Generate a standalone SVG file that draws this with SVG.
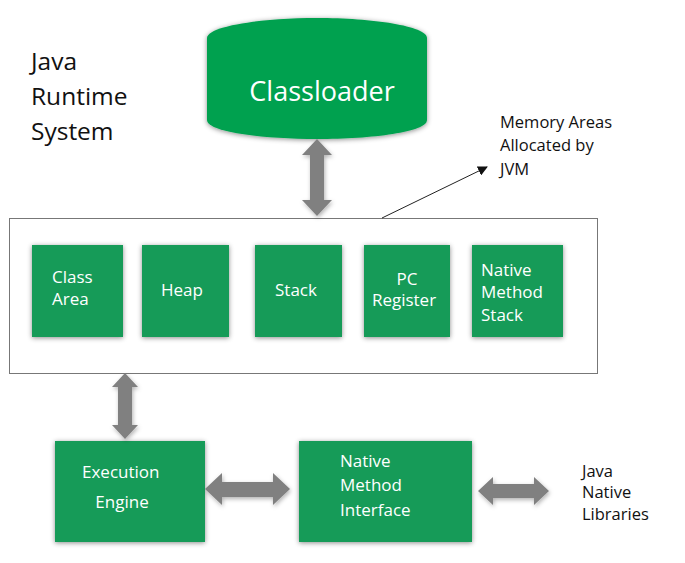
<svg xmlns="http://www.w3.org/2000/svg" width="685" height="563" viewBox="0 0 685 563">
<defs>
<filter id="sh" x="-20%" y="-20%" width="140%" height="140%">
<feDropShadow dx="0" dy="1" stdDeviation="2.5" flood-color="#000" flood-opacity="0.45"/>
</filter>
<filter id="ash" x="-30%" y="-30%" width="160%" height="160%">
<feDropShadow dx="1" dy="2" stdDeviation="2" flood-color="#000" flood-opacity="0.3"/>
</filter>
<marker id="ah" viewBox="0 0 10 10" refX="9" refY="5" markerWidth="10" markerHeight="10" markerUnits="userSpaceOnUse" orient="auto">
<path d="M0,0 L10,5 L0,10 Z" fill="#111"/>
</marker>
<style>
.box{fill:#199b59;filter:url(#sh)}
.wt{fill:#fff;font-family:"Open Sans","Liberation Sans",sans-serif;font-size:17px}
.bt{fill:#111;font-family:"Open Sans","Liberation Sans",sans-serif;font-size:16.5px}
.tt{fill:#111;font-family:"Open Sans","Liberation Sans",sans-serif;font-size:24.5px}
.arr{fill:#808080;filter:url(#ash)}
</style>
</defs>
<rect width="685" height="563" fill="#fff"/>

<g id="title">
<text class="tt" x="31" y="70">Java</text>
<text class="tt" x="31" y="105">Runtime</text>
<text class="tt" x="31" y="140">System</text>
</g>

<g id="classloader">
<path d="M207,38 C207,26 262,18 317,18 C372,18 427,26 427,38 L427,120 C427,132 372,139 317,139 C262,139 207,132 207,120 Z" fill="#00a150" filter="url(#sh)"/>
<text x="322" y="101" text-anchor="middle" style="fill:#fff;font-family:'Open Sans','Liberation Sans',sans-serif;font-size:27px">Classloader</text>
</g>

<g id="memory-areas">
<rect x="9.5" y="218.5" width="588" height="155" fill="#fff" stroke="#777" stroke-width="1"/>
</g>

<g id="class-area">
<rect class="box" x="32" y="245" width="91" height="92"/>
<text class="wt" x="52" y="283">Class</text>
<text class="wt" x="52" y="305">Area</text>
</g>
<g id="heap">
<rect class="box" x="142" y="245" width="87" height="92"/>
<text class="wt" x="182" y="296" text-anchor="middle">Heap</text>
</g>
<g id="stack">
<rect class="box" x="255" y="245" width="87" height="92"/>
<text class="wt" x="296" y="296" text-anchor="middle">Stack</text>
</g>
<g id="pc-register">
<rect class="box" x="364" y="245" width="86" height="92"/>
<text class="wt" x="407" y="285" text-anchor="middle">PC</text>
<text class="wt" x="404" y="306" text-anchor="middle">Register</text>
</g>
<g id="native-method-stack">
<rect class="box" x="472" y="245" width="91" height="92"/>
<text class="wt" x="481" y="276">Native</text>
<text class="wt" x="481" y="298">Method</text>
<text class="wt" x="481" y="321">Stack</text>
</g>

<g id="memory-label">
<text class="bt" x="500" y="128">Memory Areas</text>
<text class="bt" x="500" y="151">Allocated by</text>
<text class="bt" x="500" y="175">JVM</text>
</g>

<g id="execution-engine">
<rect class="box" x="55" y="441" width="150" height="101"/>
<text class="wt" x="82" y="478">Execution</text>
<text class="wt" x="122" y="508" text-anchor="middle">Engine</text>
</g>

<g id="native-method-interface">
<rect class="box" x="299" y="441" width="173" height="101"/>
<text class="wt" x="340" y="467">Native</text>
<text class="wt" x="340" y="491">Method</text>
<text class="wt" x="340" y="516">Interface</text>
</g>

<g id="java-native-libraries">
<text class="bt" x="582" y="477">Java</text>
<text class="bt" x="582" y="498">Native</text>
<text class="bt" x="582" y="520">Libraries</text>
</g>

<g id="connectors">
<path class="arr" d="M317,139 L332,155 L324,155 L324,200 L332,200 L317,216 L302,200 L310,200 L310,155 L302,155 Z"/>
<path class="arr" d="M125,373 L138,387 L132,387 L132,425 L138,425 L125,439 L112,425 L118,425 L118,387 L112,387 Z"/>
<path class="arr" d="M205,489 L222,473 L222,482 L273,482 L273,473 L290,489 L273,505 L273,497 L222,497 L222,505 Z"/>
<path class="arr" d="M478,491 L493,477 L493,484 L534,484 L534,477 L549,491 L534,505 L534,498 L493,498 L493,505 Z"/>
<line x1="382" y1="218" x2="487" y2="167" stroke="#222" stroke-width="1" marker-end="url(#ah)"/>
</g>
</svg>
